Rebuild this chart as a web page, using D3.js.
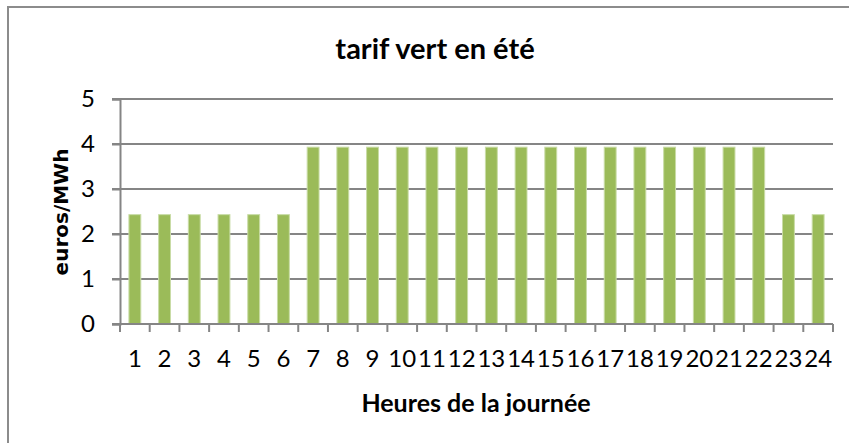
<!DOCTYPE html>
<html>
<head>
<meta charset="utf-8">
<script src="https://cdn.jsdelivr.net/npm/d3@7/dist/d3.min.js"></script>
<style>
  html, body { margin: 0; padding: 0; background: #fff; }
  svg { display: block; }
</style>
</head>
<body>
<svg id="chart" width="849" height="443"></svg>
<script>
// Hourly green-tariff prices (summer), euros/MWh
const hours = ["1","2","3","4","5","6","7","8","9","10","11","12","13","14","15","16","17","18","19","20","21","22","23","24"];
const prices = [2.43,2.43,2.43,2.43,2.43,2.43,3.93,3.93,3.93,3.93,3.93,3.93,3.93,3.93,3.93,3.93,3.93,3.93,3.93,3.93,3.93,3.93,2.43,2.43];
const yTicks = [0,1,2,3,4,5];
const chartTitle = "tarif vert en été";
const xTitle = "Heures de la journée";
const yTitle = "euros/MWh";

const svg = d3.select("#chart");
const W = 849, H = 443;
const plot = { left: 120, right: 833, top: 99, bottom: 324 };
const gridColor = "#858585";
const font = "Lato, 'Open Sans', sans-serif";

svg.append("rect").attr("width", W).attr("height", H).attr("fill", "#fff");

// chart frame
svg.append("rect")
  .attr("x", 8).attr("y", 7).attr("width", 900).attr("height", 500)
  .attr("fill", "none").attr("stroke", "#8c8c8c").attr("stroke-width", 2);

const x = d3.scaleBand().domain(hours).range([plot.left, plot.right])
  .paddingInner(0.6).paddingOuter(0.3);
const y = d3.scaleLinear().domain([0, 5]).range([plot.bottom, plot.top]);

// horizontal gridlines (with left tick stubs)
svg.append("g").selectAll("line").data(yTicks).join("line")
  .attr("x1", plot.left - 8).attr("x2", plot.right)
  .attr("y1", d => y(d)).attr("y2", d => y(d))
  .attr("stroke", gridColor).attr("stroke-width", 2);

// y axis with labels
const yAxis = svg.append("g").attr("transform", `translate(${plot.left},0)`)
  .call(d3.axisLeft(y).tickValues(yTicks).tickSize(8).tickPadding(17).tickFormat(d3.format("d")));
yAxis.select(".domain").attr("stroke", gridColor).attr("stroke-width", 2);
yAxis.selectAll(".tick line").attr("stroke", gridColor).attr("stroke-width", 2);
yAxis.selectAll(".tick text").attr("font-family", font).attr("font-size", 24).attr("fill", "#000");

// bars
svg.append("g").selectAll("rect").data(prices).join("rect")
  .attr("x", (d, i) => x(hours[i]))
  .attr("y", d => y(d))
  .attr("width", x.bandwidth())
  .attr("height", d => y(0) - y(d))
  .attr("fill", "#9bbb59")
  .attr("stroke", "#c9dca6").attr("stroke-width", 1);

// category boundary ticks
const step = x.step();
const bounds = d3.range(hours.length + 1).map(i => plot.left + i * step);
svg.append("g").selectAll("line").data(bounds).join("line")
  .attr("x1", d => d).attr("x2", d => d)
  .attr("y1", plot.bottom).attr("y2", plot.bottom + 8)
  .attr("stroke", gridColor).attr("stroke-width", 2);

// x axis line
svg.append("line")
  .attr("x1", plot.left - 8).attr("x2", plot.right)
  .attr("y1", plot.bottom).attr("y2", plot.bottom)
  .attr("stroke", gridColor).attr("stroke-width", 2);

// x labels
const xAxis = svg.append("g").attr("transform", `translate(0,${plot.bottom})`)
  .call(d3.axisBottom(x).tickSize(0).tickPadding(26));
xAxis.select(".domain").remove();
xAxis.selectAll(".tick text").attr("font-family", font).attr("font-size", 24).attr("fill", "#000");

// titles
svg.append("text").attr("x", 435).attr("y", 59).attr("text-anchor", "middle")
  .attr("font-family", font).attr("font-weight", 700).attr("font-size", 29)
  .text(chartTitle);

svg.append("text").attr("x", 476).attr("y", 412).attr("text-anchor", "middle")
  .attr("font-family", font).attr("font-weight", 700).attr("font-size", 25)
  .text(xTitle);

svg.append("text")
  .attr("transform", "translate(68,212) rotate(-90)")
  .attr("text-anchor", "middle")
  .attr("font-family", "'DejaVu Sans', Verdana, sans-serif").attr("font-weight", 700).attr("font-size", 20)
  .text(yTitle);
</script>
</body>
</html>
